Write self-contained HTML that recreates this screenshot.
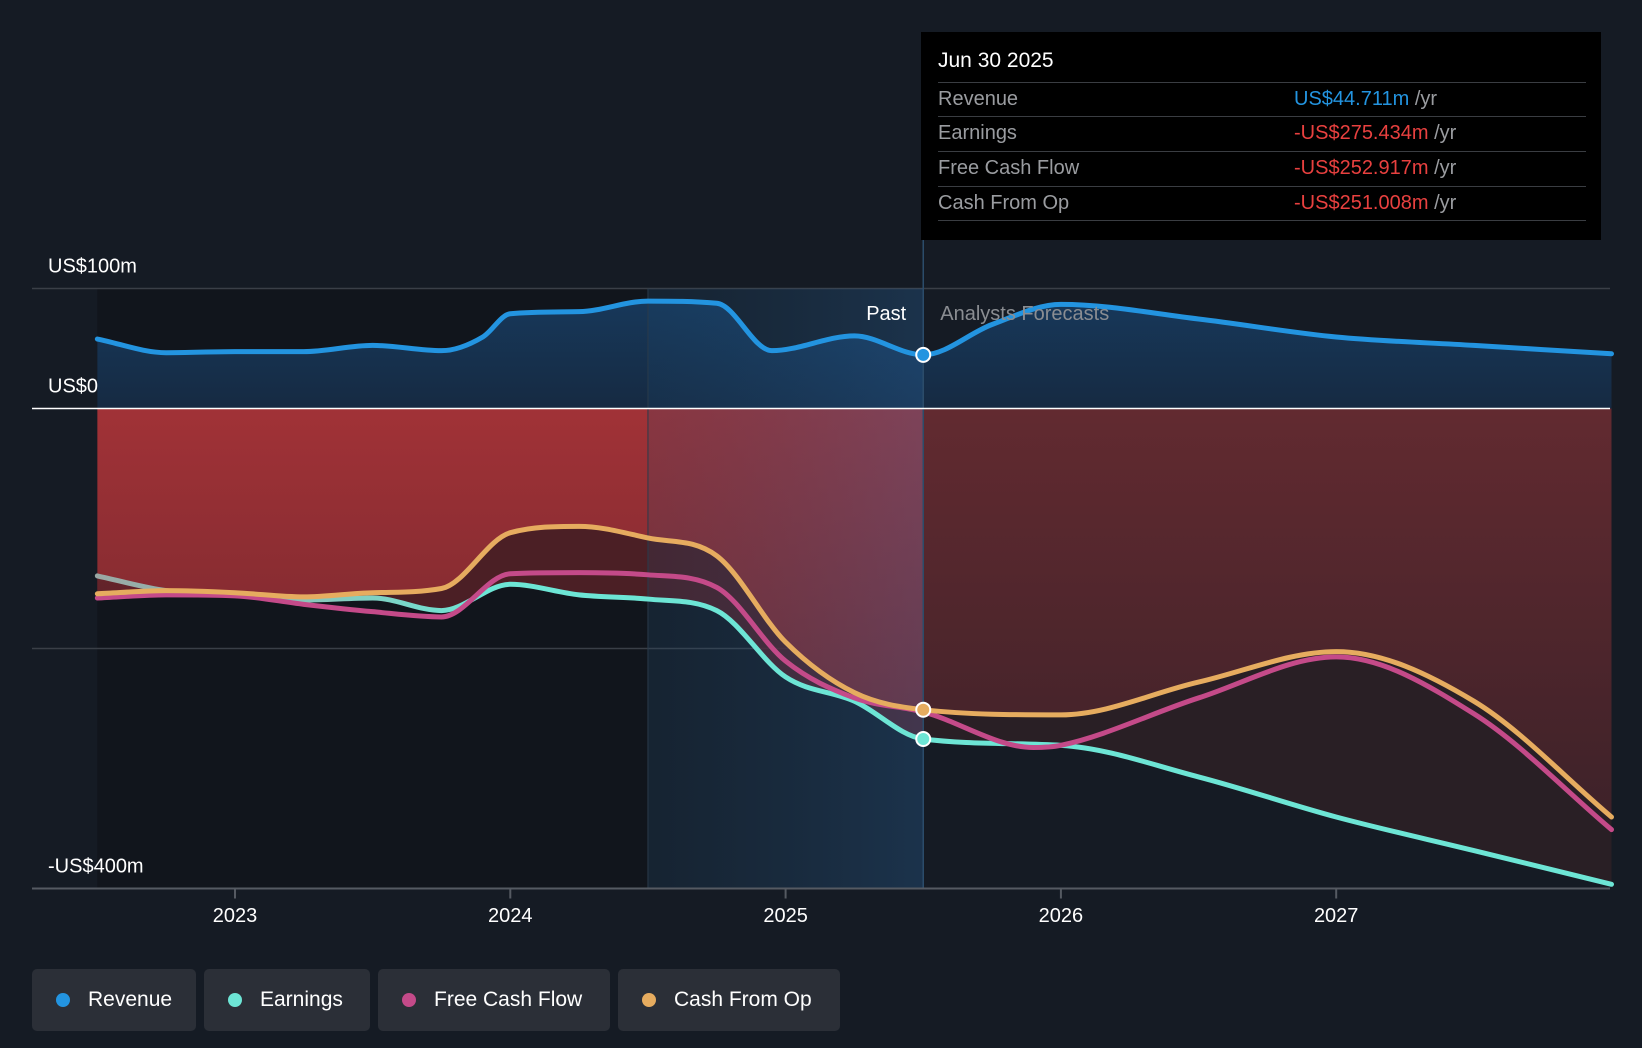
<!DOCTYPE html>
<html><head><meta charset="utf-8">
<style>
html,body{margin:0;padding:0;background:#151b24;}
body{width:1642px;height:1048px;overflow:hidden;font-family:"Liberation Sans",sans-serif;position:relative;}
svg{position:absolute;left:0;top:0;}
.tip{position:absolute;left:921px;top:32px;width:680px;height:208px;background:#000;}
.tip .d{position:absolute;left:17px;top:17px;color:#fff;font-size:21px;}
.row{position:absolute;left:17px;width:648px;height:34px;border-top:1.5px solid #3a3d42;font-size:20px;color:#9a9ca0;line-height:32px;}
.row .v{position:absolute;left:356px;}
.legend{position:absolute;top:969px;height:62px;background:#2b2f37;border-radius:5px;color:#fff;font-size:21px;line-height:62px;}
.legend i{position:absolute;left:24px;top:24px;width:14px;height:14px;border-radius:50%;}
.legend span{position:absolute;left:56px;}
</style></head><body>
<svg width="1642" height="1048" id="chart"></svg>
<div class="tip">
<div class="d">Jun 30 2025</div>
<div class="row" style="top:50px">Revenue<span class="v"><b style="font-weight:normal;color:#2394e0">US$44.711m</b> /yr</span></div>
<div class="row" style="top:84px">Earnings<span class="v"><b style="font-weight:normal;color:#e8403f">-US$275.434m</b> /yr</span></div>
<div class="row" style="top:119px">Free Cash Flow<span class="v"><b style="font-weight:normal;color:#e8403f">-US$252.917m</b> /yr</span></div>
<div class="row" style="top:154px">Cash From Op<span class="v"><b style="font-weight:normal;color:#e8403f">-US$251.008m</b> /yr</span></div>
<div class="row" style="top:188px;height:0"></div>
</div>
<div class="legend" style="left:32px;width:164px"><i style="background:#2394e0"></i><span>Revenue</span></div>
<div class="legend" style="left:204px;width:166px"><i style="background:#6de5d5"></i><span>Earnings</span></div>
<div class="legend" style="left:378px;width:232px"><i style="background:#c44a89"></i><span>Free Cash Flow</span></div>
<div class="legend" style="left:618px;width:222px"><i style="background:#e6ac5f"></i><span>Cash From Op</span></div>
<script>
const revT=[2022.5,2022.75,2023,2023.25,2023.5,2023.75,2023.9,2024,2024.25,2024.5,2024.75,2024.95,2025.25,2025.5,2025.75,2026,2026.5,2027,2027.5,2028];
const revV=[57.9,46.5,47.4,47.4,52.6,48.2,59.6,79,80.7,89.5,87.7,48.2,60.5,44.7,70,86.8,74.6,59.6,52.6,45.6];
const earnT=[2022.5,2022.75,2023,2023.25,2023.5,2023.75,2024,2024.25,2024.5,2024.75,2025,2025.25,2025.5,2026,2026.5,2027,2027.5,2028];
const earnV=[-139.5,-151.8,-155.3,-159.6,-157.9,-168.4,-146.5,-155.3,-158.8,-168.4,-223.7,-243.9,-275.4,-280.7,-307,-340.4,-368.4,-396.5];
const fcfT=[2022.5,2022.75,2023,2023.25,2023.5,2023.75,2024,2024.25,2024.5,2024.75,2025,2025.25,2025.5,2025.9,2026,2026.5,2027,2027.5,2028];
const fcfV=[-157.9,-155.3,-156.1,-163.2,-169.3,-173.7,-137.7,-136.8,-138.6,-149.1,-210.5,-241.2,-252.9,-282.5,-280.7,-241.2,-207,-254.4,-350.9];
const cfoT=[2022.5,2022.75,2023,2023.25,2023.5,2023.75,2024,2024.25,2024.5,2024.75,2025,2025.25,2025.5,2026,2026.5,2027,2027.5,2028];
const cfoV=[-154.4,-151.8,-153.5,-157,-153.5,-150,-103.5,-98.2,-107.9,-122.8,-194.7,-236.8,-251,-255.3,-228,-202.6,-243.9,-340.4];
const yTicks=[100,0,-400];
const yTickLabels=["US$100m","US$0","-US$400m"];
const xTicks=[2023,2024,2025,2026,2027];
const pastT=2025.5, shadeT=2024.5;

const X=t=>235+(t-2023)*275.3;
const Y=v=>408.5-v*1.2;
const NS='http://www.w3.org/2000/svg';
const svg=document.getElementById('chart');
function el(tag,attrs,parent){const e=document.createElementNS(NS,tag);for(const k in attrs)e.setAttribute(k,attrs[k]);(parent||svg).appendChild(e);return e;}
function pts(T,V){return T.map((t,i)=>[X(t),Y(V[i])]);}
function smooth(p,move){
  const n=p.length,d=[],m=[];
  for(let i=0;i<n-1;i++)d.push((p[i+1][1]-p[i][1])/(p[i+1][0]-p[i][0]));
  m[0]=d[0];m[n-1]=d[n-2];
  for(let i=1;i<n-1;i++)m[i]=d[i-1]*d[i]<=0?0:(d[i-1]+d[i])/2;
  for(let i=0;i<n-1;i++){if(d[i]===0){m[i]=m[i+1]=0;continue;}const a=m[i]/d[i],b=m[i+1]/d[i],s=a*a+b*b;if(s>9){const tt=3/Math.sqrt(s);m[i]=tt*a*d[i];m[i+1]=tt*b*d[i];}}
  let s=(move?'M':'L')+p[0][0]+','+p[0][1];
  for(let i=0;i<n-1;i++){const h=(p[i+1][0]-p[i][0])/3;s+=`C${p[i][0]+h},${p[i][1]+m[i]*h} ${p[i+1][0]-h},${p[i+1][1]-m[i+1]*h} ${p[i+1][0]},${p[i+1][1]}`;}
  return s;
}
const defs=el('defs',{});
defs.innerHTML=`
<linearGradient id="gRed" x1="0" y1="0" x2="0" y2="1"><stop offset="0" stop-color="#a13237"/><stop offset="1" stop-color="#6a252b"/></linearGradient>
<linearGradient id="gRedF" x1="0" y1="0" x2="0" y2="1"><stop offset="0" stop-color="#622a30"/><stop offset="1" stop-color="#3e2229"/></linearGradient>
<linearGradient id="gBlue" x1="0" y1="0" x2="0" y2="1"><stop offset="0" stop-color="#17385a"/><stop offset="1" stop-color="#162a42"/></linearGradient>
<linearGradient id="gPast" x1="0" y1="0" x2="1" y2="0"><stop offset="0" stop-color="#1c4a70" stop-opacity="0.18"/><stop offset="1" stop-color="#2a6aa8" stop-opacity="0.3"/></linearGradient>
<linearGradient id="gEarnFade" gradientUnits="userSpaceOnUse" x1="${X(2022.5)}" y1="0" x2="${X(2023.9)}" y2="0"><stop offset="0" stop-color="#9aa8a4"/><stop offset="0.6" stop-color="#86c9bd"/><stop offset="1" stop-color="#6de5d5"/></linearGradient>
<clipPath id="cPast"><rect x="0" y="0" width="${X(pastT)}" height="1048"/></clipPath>
<clipPath id="cFut"><rect x="${X(pastT)}" y="0" width="1642" height="1048"/></clipPath>`;
el('rect',{x:X(2022.5),y:Y(100),width:X(shadeT)-X(2022.5),height:Y(-400)-Y(100),fill:'#11151c',});
[100,-200].forEach(v=>el('line',{x1:32,x2:1610,y1:Y(v),y2:Y(v),stroke:'#3a3f47','stroke-width':1.5,}));
const rp=pts(revT,revV),ep=pts(earnT,earnV),fp=pts(fcfT,fcfV),cp=pts(cfoT,cfoV);
el('path',{d:smooth(rp,true)+`L${rp[rp.length-1][0]},${Y(0)}L${rp[0][0]},${Y(0)}Z`,fill:'url(#gBlue)',});
['cPast','cFut'].forEach(c=>{
 el('path',{d:`M${cp[0][0]},${Y(0)}`+smooth(cp,false)+`L${cp[cp.length-1][0]},${Y(0)}Z`,fill:c==='cPast'?'url(#gRed)':'url(#gRedF)','clip-path':`url(#${c})`,});
 el('path',{d:smooth(cp,true)+smooth(ep.slice().reverse(),false)+'Z',fill:c==='cPast'?'#5a2228':'#2e2026',opacity:0.8,'clip-path':`url(#${c})`,});
});
el('rect',{x:X(shadeT),y:Y(100),width:X(pastT)-X(shadeT),height:Y(-400)-Y(100),fill:'url(#gPast)',});
el('line',{x1:X(shadeT),x2:X(shadeT),y1:Y(100),y2:Y(-400),stroke:'#2a3a4a','stroke-width':1});
el('line',{x1:X(pastT),x2:X(pastT),y1:32,y2:Y(-400),stroke:'#2b4c6a','stroke-width':1.5,});
el('line',{x1:32,x2:1610,y1:Y(0),y2:Y(0),stroke:'#fff','stroke-width':1.5,});
el('line',{x1:32,x2:1610,y1:Y(-400),y2:Y(-400),stroke:'#555a62','stroke-width':2,});
[[rp,'#2394e0','revenue-line'],[ep,'url(#gEarnFade)','earnings-line'],[fp,'#c44a89','free-cash-flow-line'],[cp,'#e6ac5f','cash-from-op-line']].forEach(([p,c,n])=>{
 const l=el('path',{d:smooth(p,true),fill:'none',stroke:c,'stroke-width':5,'stroke-linecap':'round'});
 
 
});
[[revT,revV,'#2394e0'],[earnT,earnV,'#6de5d5'],[cfoT,cfoV,'#e6ac5f']].forEach(([T,V,c])=>{
 const i=T.indexOf(pastT);
 const m=el('circle',{cx:X(pastT),cy:Y(V[i]),r:7,fill:c,stroke:'#fff','stroke-width':2});
 
 
});
yTicks.forEach((v,i)=>{
 const t=el('text',{x:48,y:Y(v)-16,fill:'#fff','font-size':20,'font-family':'Liberation Sans, sans-serif'});
 t.textContent=yTickLabels[i];
 
 
});
xTicks.forEach(v=>{
 el('line',{x1:X(v),x2:X(v),y1:Y(-400),y2:Y(-400)+10,stroke:'#555a62','stroke-width':2});
 const t=el('text',{x:X(v),y:922,fill:'#fff','font-size':20,'text-anchor':'middle','font-family':'Liberation Sans, sans-serif'});
 t.textContent=v;
 
 
});
const p1=el('text',{x:X(pastT)-17,y:320,fill:'#fff','font-size':20,'text-anchor':'end','font-family':'Liberation Sans, sans-serif'});
p1.textContent='Past';


const p2=el('text',{x:X(pastT)+17,y:320,fill:'#8a8d92','font-size':20,'font-family':'Liberation Sans, sans-serif'});
p2.textContent='Analysts Forecasts';


</script>
</body></html>
